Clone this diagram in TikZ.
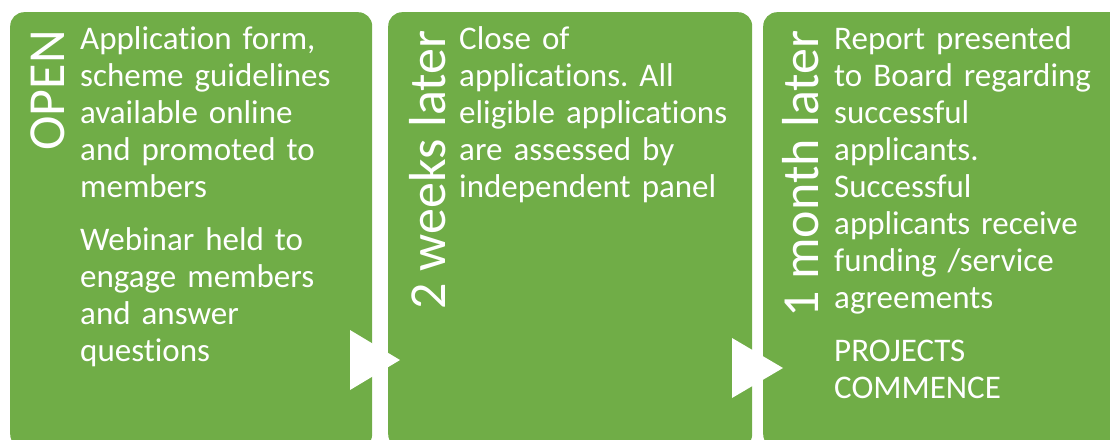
\documentclass[tikz,border=0pt]{standalone}
\usepackage{fontspec}
\setmainfont{Carlito}[Ligatures={NoCommon}]
\frenchspacing
\definecolor{boxgreen}{HTML}{70AD47}
\begin{document}
\begin{tikzpicture}[x=1pt,y=1pt,
  stage/.style={fill=boxgreen, draw=none, rounded corners=14pt, minimum height=436pt, inner sep=0pt, anchor=north west},
  body/.style={text=white, anchor=base west, align=left, inner sep=0pt, font=\fontsize{33}{37}\selectfont, text width=300pt},
  when/.style={text=white, rotate=90, anchor=base east, inner sep=0pt, font=\fontsize{52}{60}\selectfont},
  tri/.style={fill=white, draw=none}]
\useasboundingbox (0,0) rectangle (1110,-439);
\clip (0,0) rectangle (1110,-439);
% stage boxes
\node[stage, minimum width=362pt] (b1) at (10,-12) {};
\node[stage, minimum width=364pt] (b2) at (388,-12) {};
\node[stage, minimum width=364pt] (b3) at (763,-12) {};
% rotated timing labels
\node[when] (w1) at (64,-30) {OPEN};
\node[when] (w2) at (445,-30) {2 weeks later};
\node[when] (w3) at (818,-30) {1 month later};
% body texts
\node[body] (t1) at (80,-49) {Application form,\\scheme guidelines\\available online\\and promoted to\\members\\[16pt]Webinar held to\\engage members\\and answer\\questions};
\node[body] (t2) at (459,-49) {Close of\\applications. All\\eligible applications\\are assessed by\\independent panel};
\node[body] (t3) at (834,-49) {Report presented\\to Board regarding\\successful\\applicants.\\Successful\\applicants receive\\funding /service\\agreements\\[16pt]PROJECTS\\COMMENCE};
% arrows between stages
\fill[tri] (350,-330) -- (350,-390) -- (400,-360) -- cycle;
\fill[tri] (732,-338) -- (732,-398) -- (783,-368) -- cycle;
\end{tikzpicture}
\end{document}
